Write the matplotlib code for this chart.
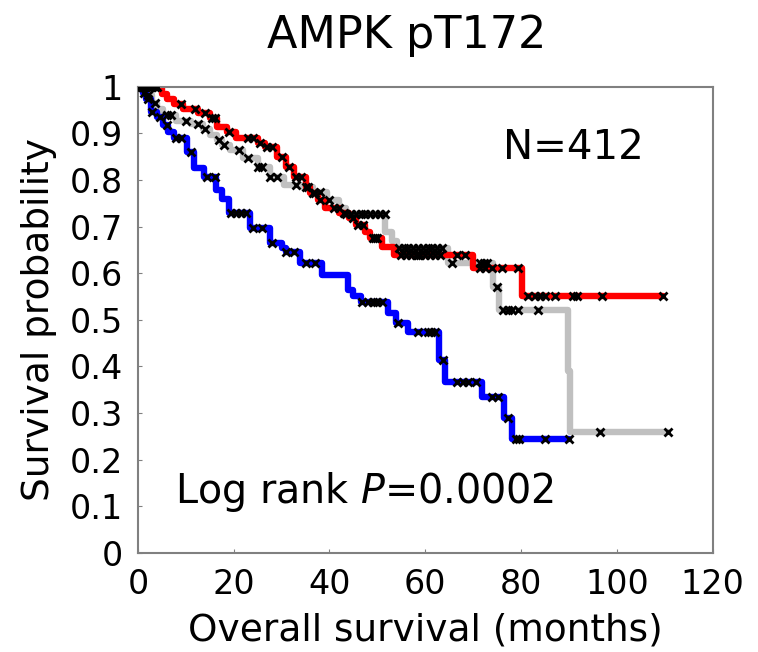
import numpy as np
import matplotlib
matplotlib.use('Agg')
import matplotlib.pyplot as plt

plt.rcParams['font.family'] = ['DejaVu Sans']

#------------------------
# Kaplan-Meier step data (months, survival)
#------------------------
red_t = [0, 5, 6, 7.5, 9.5, 12.5, 15, 16.5, 18.5, 20.5, 25, 26.5, 29, 31, 32.5, 35, 36,
         37.5, 39, 42, 44, 45.5, 47.5, 48.5, 51, 53.5, 70, 80.2, 109.6]
red_s = [1.0, 0.985, 0.974, 0.963, 0.953, 0.944, 0.933, 0.914, 0.903, 0.89, 0.88, 0.871,
         0.85, 0.828, 0.807, 0.785, 0.772, 0.757, 0.74, 0.73, 0.719, 0.704, 0.689, 0.676,
         0.657, 0.64, 0.612, 0.55, 0.55]

gray_t = [0, 1.5, 3, 4, 5.3, 8, 11, 13.5, 15, 16.5, 17.5, 19.2, 22, 25, 27.5, 30.5, 34,
          36.5, 39.5, 42, 43.5, 51.7, 53, 54, 64.7, 74.2, 75.5, 89.8, 90.3, 110.6]
gray_s = [1.0, 0.983, 0.965, 0.953, 0.94, 0.927, 0.92, 0.91, 0.897, 0.886, 0.876, 0.865,
          0.848, 0.828, 0.807, 0.79, 0.785, 0.775, 0.757, 0.74, 0.727, 0.689, 0.67, 0.655,
          0.622, 0.571, 0.522, 0.39, 0.26, 0.26]

blue_t = [0, 1, 1.7, 2.7, 4, 5.2, 6.3, 7.5, 10.3, 11.8, 13.8, 16.3, 17.5, 19, 23.5, 27.5,
          30, 31, 33.8, 38.5, 43.8, 45, 46.5, 52.2, 53.8, 56.5, 62.8, 64.2, 71.8, 76.5,
          78.2, 90]
blue_s = [1.0, 0.987, 0.974, 0.946, 0.935, 0.918, 0.903, 0.89, 0.86, 0.826, 0.807, 0.779,
          0.76, 0.73, 0.697, 0.665, 0.655, 0.646, 0.622, 0.597, 0.565, 0.55, 0.539, 0.515,
          0.494, 0.474, 0.414, 0.367, 0.335, 0.29, 0.245, 0.245]

# censored observations (months)
red_cens = [0.5, 1, 1.5, 2, 2.5, 3, 3.5, 4, 9, 12, 14, 15.5, 16, 19, 23, 24, 25.5, 27, 28,
            30, 31.5, 33, 34, 35.5, 36.5, 37, 38, 41, 43, 45, 46, 47, 49, 49.5, 50, 55, 56,
            57, 58, 58.5, 59, 60, 61, 62, 63, 66.6, 68.3, 71.4, 72.5, 74, 76, 79.3, 81.4,
            83, 84, 85, 87, 90.8, 91.6, 97, 109.6]
gray_cens = [0.5, 1, 2, 3.5, 6, 7, 10, 12.5, 14, 17, 18, 21, 23, 25, 26, 27.5, 29, 33, 35,
             38, 40, 42, 43.5, 44.5, 45.5, 46.5, 47.5, 48.5, 49.5, 50.5, 51.5, 54.5, 55.5,
             56.5, 57.5, 58.5, 59.5, 60.5, 61.5, 62.5, 63.5, 65.6, 71.4, 72.2, 72.9, 75,
             76.2, 77.2, 78.2, 79.3, 83.5, 96.5, 110.6]
blue_cens = [0.3, 0.8, 1.3, 2, 3, 4.5, 6, 8, 9, 11, 14.5, 16, 19.5, 20.5, 21.5, 22.5, 24,
             26, 28, 31, 32.5, 35, 37, 46.8, 48, 49, 50, 51, 54.3, 58.5, 60.5, 61.3, 62,
             63.7, 66.6, 67.8, 69, 70.6, 73.9, 75.2, 77.2, 79, 79.5, 85, 90]

yticks = [0, 0.1, 0.2, 0.3, 0.4, 0.5, 0.6, 0.7, 0.8, 0.9, 1]
ytick_labels = ['0', '0.1', '0.2', '0.3', '0.4', '0.5', '0.6', '0.7', '0.8', '0.9', '1']
xticks = [0, 20, 40, 60, 80, 100, 120]


def surv_at(t, s, times):
    idx = np.searchsorted(t, times, side='right') - 1
    return np.asarray(s)[idx]


fig = plt.figure(figsize=(7.58, 6.52), dpi=100)
ax = fig.add_axes([0.182, 0.152, 0.758, 0.715])

for t, s, c in [(gray_t, gray_s, '#c0c0c0'), (red_t, red_s, '#ff0000'),
                (blue_t, blue_s, '#0000ff')]:
    ax.plot(t, s, drawstyle='steps-post', color=c, lw=4.6,
            solid_joinstyle='round', solid_capstyle='round', zorder=2)

for t, s, cens in [(gray_t, gray_s, gray_cens), (red_t, red_s, red_cens),
                   (blue_t, blue_s, blue_cens)]:
    ax.plot(cens, surv_at(t, s, cens), 'x', color='black', ms=6, mew=2, zorder=3)

ax.set_xlim(0, 120)
ax.set_ylim(0, 1)
ax.set_xticks(xticks)
ax.set_yticks(yticks)
ax.set_yticklabels(ytick_labels)
ax.tick_params(direction='in', length=3, color='#808080', labelsize=24, pad=11)
for sp in ax.spines.values():
    sp.set_color('#808080')
    sp.set_linewidth(1.5)

ax.set_xlabel('Overall survival (months)', fontsize=27, labelpad=8)
ax.set_ylabel('Survival probability', fontsize=27, labelpad=9)
fig.text(0.536, 0.946, 'AMPK pT172', fontsize=32, ha='center', va='center')

ax.text(0.635, 0.869, 'N=412', transform=ax.transAxes, fontsize=29, va='center')
ax.text(0.064, 0.131, 'Log rank $\\it{P}$=0.0002', transform=ax.transAxes, fontsize=28.5,
        va='center')

plt.savefig('out.png', dpi=100)
plt.close()
